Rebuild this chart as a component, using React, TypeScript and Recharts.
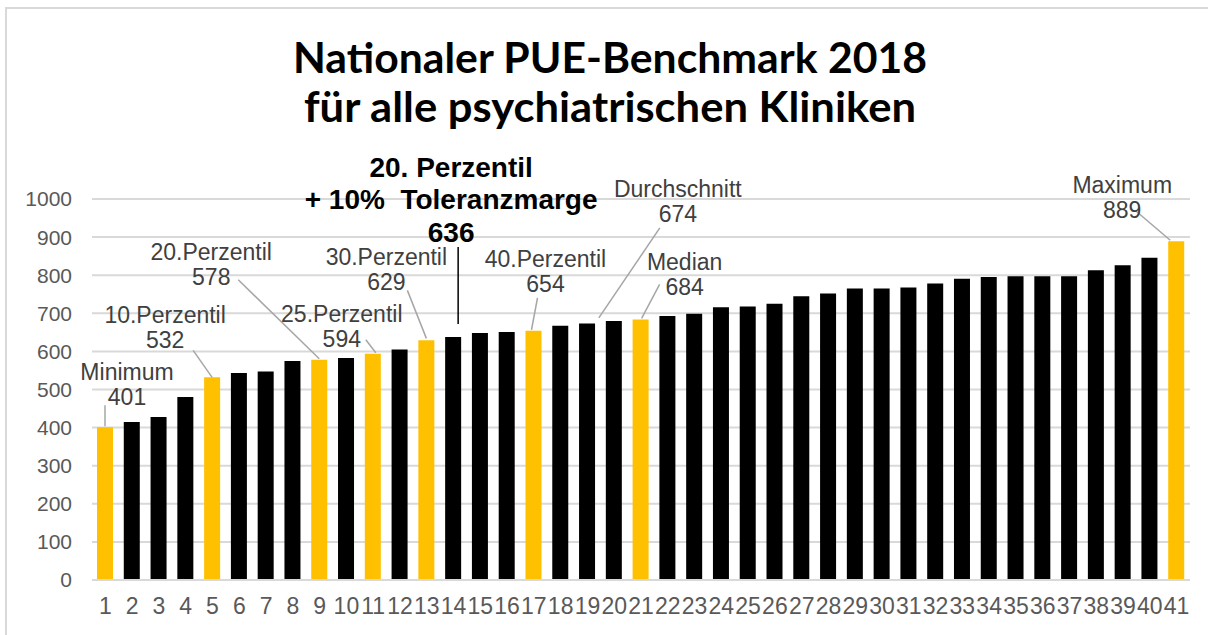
import React from 'react';
import { BarChart, Bar, XAxis, YAxis, CartesianGrid, Cell, LabelList } from 'recharts';

// clinics 1..41, sorted by PUE value
const clinics = [
  '1', '2', '3', '4', '5', '6', '7', '8', '9', '10',
  '11', '12', '13', '14', '15', '16', '17', '18', '19', '20',
  '21', '22', '23', '24', '25', '26', '27', '28', '29', '30',
  '31', '32', '33', '34', '35', '36', '37', '38', '39', '40', '41',
];
const pueValues = [
  401, 415, 428, 480, 532, 543, 547, 575, 578, 583,
  594, 605, 629, 638, 648, 651, 654, 667, 673, 680,
  684, 693, 699, 716, 718, 725, 745, 752, 765, 765,
  768, 778, 791, 795, 797, 797, 797, 813, 826, 846, 889,
];
// clinics marked in yellow (percentile markers)
const highlighted = ['1', '5', '9', '11', '13', '17', '21', '41'];
const yTicks = [0, 100, 200, 300, 400, 500, 600, 700, 800, 900, 1000];
const titleLines = ['Nationaler PUE-Benchmark 2018', 'für alle psychiatrischen Kliniken'];

// annotation texts, keyed by the clinic they point to
const noteClinics = ['1', '5', '9', '11', '13', '14', '17', '20', '21', '41'];
const noteTexts = [
  ['Minimum', '401'],
  ['10.Perzentil', '532'],
  ['20.Perzentil', '578'],
  ['25.Perzentil', '594'],
  ['30.Perzentil', '629'],
  ['20. Perzentil', '+ 10%  Toleranzmarge', '636'],
  ['40.Perzentil', '654'],
  ['Durchschnitt', '674'],
  ['Median', '684'],
  ['Maximum', '889'],
];

// layout of each annotation relative to the bar top centre: text dx, first baseline dy, leader line
const noteLayout = [
  { dx: 22, dy: -47, from: [0, -22], to: [0, -1] },
  { dx: -47, dy: -54, from: [-19, -27], to: [0, 0] },
  { dx: -108, dy: -100, from: [-81, -80], to: [0, -1] },
  { dx: -31, dy: -32, from: [-7, -14], to: [3, -1] },
  { dx: -40, dy: -75, from: [-19, -50], to: [0, -2] },
  { dx: -2, dy: -160, from: [5, -90], to: [5, -13] },
  { dx: 12, dy: -64, from: [4, -33], to: [-2, -1] },
  { dx: 64, dy: -124, from: [46, -93], to: [-15, -3] },
  { dx: 44, dy: -49, from: [19, -35], to: [1, -1] },
  { dx: -54, dy: -48, from: [-40, -30], to: [-6, -1] },
];

const YELLOW = '#FFC000';
const FONT = '"Liberation Sans", Arial, sans-serif';

const data = clinics.map((name, i) => ({ name, value: pueValues[i] }));

const renderNote = (props: any) => {
  const idx = props.index;
  const k = noteClinics.indexOf(clinics[idx]);
  if (k < 0) return null;
  const vb = props.viewBox || {};
  const x = Number(props.x ?? vb.x);
  const y = Number(props.y ?? vb.y);
  const w = Number(props.width ?? vb.width);
  const cx = x + w / 2;
  const lay = noteLayout[k];
  const lines = noteTexts[k];
  const bold = lines.length > 2;
  const step = bold ? 32.5 : 25;
  return (
    <g key={`note-${idx}`}>
      <line
        x1={cx + lay.from[0]}
        y1={y + lay.from[1]}
        x2={cx + lay.to[0]}
        y2={y + lay.to[1]}
        stroke={bold ? '#000' : '#A6A6A6'}
        strokeWidth={1.5}
      />
      {lines.map((t, j) => (
        <text
          key={j}
          x={cx + lay.dx}
          y={y + lay.dy + j * step}
          textAnchor="middle"
          fontFamily={FONT}
          fontSize={bold ? 28 : 23}
          fontWeight={bold ? 700 : 400}
          fill={bold ? '#000' : '#404040'}
          style={{ whiteSpace: 'pre' }}
        >
          {t}
        </text>
      ))}
    </g>
  );
};

export default function App() {
  return (
    <div style={{ position: 'absolute', left: 0, top: 0, width: 1208, height: 635, overflow: 'hidden', background: '#fff' }}>
      <svg width={1208} height={635} style={{ position: 'absolute', left: 0, top: 0 }}>
        {/* frame of the pasted chart: only top and left edges are visible */}
        <line x1={5} y1={8} x2={1208} y2={8} stroke="#D9D9D9" strokeWidth={2} />
        <line x1={6} y1={8} x2={6} y2={635} stroke="#D9D9D9" strokeWidth={2} />
        {titleLines.map((t, i) => (
          <text
            key={i}
            x={610}
            y={73 + i * 49}
            textAnchor="middle"
            fontFamily="Lato, 'Open Sans', sans-serif"
            fontWeight={700}
            fontSize={42}
            textLength={i === 0 ? 634 : 612}
            lengthAdjust="spacingAndGlyphs"
            fill="#000"
          >
            {t}
          </text>
        ))}
      </svg>
      <div style={{ position: 'absolute', left: 0, top: 0 }}>
        <BarChart width={1208} height={635} data={data} margin={{ top: 199, right: 18, left: 0, bottom: 0 }}>
          <CartesianGrid vertical={false} stroke="#D9D9D9" strokeWidth={2} />
          <XAxis
            dataKey="name"
            interval={0}
            height={55}
            tickLine={false}
            tickSize={6}
            tickMargin={12}
            axisLine={{ stroke: '#D9D9D9', strokeWidth: 2 }}
            tick={{ fill: '#595959', fontSize: 23, fontFamily: FONT }}
          />
          <YAxis
            width={92}
            domain={[0, 1000]}
            ticks={yTicks}
            interval={0}
            axisLine={false}
            tickLine={false}
            tickSize={6}
            tickMargin={14}
            tick={{ fill: '#595959', fontSize: 21, fontFamily: FONT }}
          />
          <Bar dataKey="value" barSize={16} isAnimationActive={false}>
            {data.map((d) => (
              <Cell key={d.name} fill={highlighted.includes(d.name) ? YELLOW : '#000'} />
            ))}
            <LabelList dataKey="value" content={renderNote} />
          </Bar>
        </BarChart>
      </div>
    </div>
  );
}
